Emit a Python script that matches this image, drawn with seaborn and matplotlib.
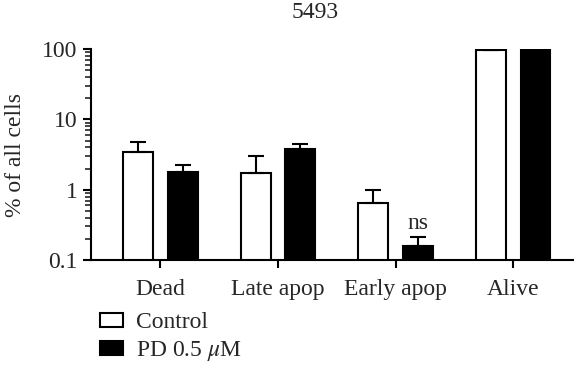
import numpy as np
import pandas as pd
import matplotlib
matplotlib.use("Agg")
import matplotlib.pyplot as plt
import seaborn as sns

# values (% of all cells, mean and top of error bar)
categories = ["Dead", "Late apop", "Early apop", "Alive"]
groups = ["Control", "PD 0.5 $\\mu$M"]
control_mean = [3.45, 1.75, 0.65, 97]
control_top = [4.7, 3.05, 0.98, 98]
pd_mean = [1.8, 3.8, 0.157, 97]
pd_top = [2.25, 4.45, 0.21, 97]

df = pd.DataFrame({
    "category": categories * 2,
    "group": [groups[0]] * 4 + [groups[1]] * 4,
    "value": control_mean + pd_mean,
})

sns.set_style("ticks")
plt.rcParams["font.family"] = ["Liberation Serif", "DejaVu Serif"]
plt.rcParams["mathtext.fontset"] = "stix"
FS = 17

fig = plt.figure(figsize=(5.74, 3.66), dpi=100)
ax = fig.add_axes([0.1585, 0.2896, 0.84, 0.5764])
ax.set_yscale("log")

sns.barplot(data=df, x="category", y="value", hue="group", order=categories,
            hue_order=groups, palette=["white", "black"], width=0.76, gap=0.33,
            errorbar=None, edgecolor="black", linewidth=1.5, ax=ax)

# upward-only error bars
tops = [control_top, pd_top]
means = [control_mean, pd_mean]
for cont, t, m in zip(ax.containers, tops, means):
    for bar, hi, mu in zip(cont, t, m):
        xc = bar.get_x() + bar.get_width() / 2
        ax.errorbar(xc, mu, yerr=[[0], [hi - mu]], fmt="none", ecolor="black",
                    elinewidth=1.5, capsize=6, capthick=1.5)

# ns label above Early apop PD bar
b = ax.containers[1][2]
ax.text(b.get_x() + b.get_width() / 2, pd_top[2] * 1.1, "ns", ha="center",
        va="bottom", fontsize=FS)

ax.set_ylim(0.1, 100)
ax.set_xlim(-0.59, 3.51)
ax.set_yticks([0.1, 1, 10, 100])
ax.set_yticklabels(["0.1", "1", "10", "100"])
ax.set_xlabel("")
ax.set_ylabel("% of all cells", fontsize=FS)
ax.yaxis.set_label_coords(-0.135, 0.5)
fig.text(315 / 574, 1 - 13 / 366, "5493", ha="center", va="center", fontsize=FS)
ax.tick_params(axis="both", labelsize=FS, width=1.5, length=6, color="black")
ax.tick_params(axis="x", pad=8)
ax.tick_params(axis="y", which="minor", width=1.2, length=4)
for s in ["left", "bottom"]:
    ax.spines[s].set_linewidth(1.5)
    ax.spines[s].set_color("black")
sns.despine(ax=ax)

handles, labels = ax.get_legend_handles_labels()
ax.legend(handles, labels, loc="upper left", bbox_to_anchor=(0.174, 0.147),
          bbox_transform=fig.transFigure, frameon=False, fontsize=FS,
          handlelength=1.0, handleheight=0.55, handletextpad=0.55,
          labelspacing=0.25, borderaxespad=0, borderpad=0)

fig.savefig("out.png", dpi=100)
